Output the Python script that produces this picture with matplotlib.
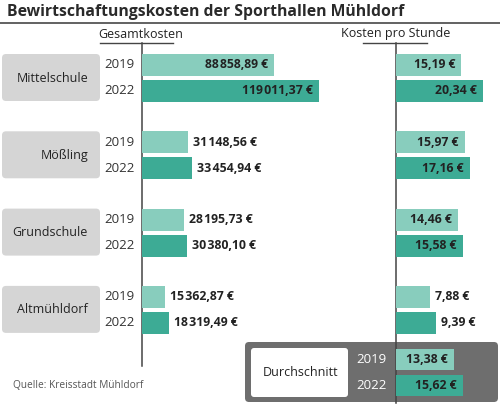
import matplotlib.pyplot as plt
from matplotlib.patches import FancyBboxPatch

plt.rcParams['font.family'] = ['Open Sans', 'DejaVu Sans']

# data
categories = ['Mittelschule', 'Mößling', 'Grundschule', 'Altmühldorf']
years = ['2019', '2022']
gesamt_2019 = [88858.89, 31148.56, 28195.73, 15362.87]
gesamt_2022 = [119011.37, 33454.94, 30380.10, 18319.49]
stunde_2019 = [15.19, 15.97, 14.46, 7.88]
stunde_2022 = [20.34, 17.16, 15.58, 9.39]
avg_label = 'Durchschnitt'
avg_stunde = [13.38, 15.62]

light = '#88cdbd'
dark = '#3dab95'
txt = '#222222'


def fmt(v):
    s = f'{v:,.2f}'
    return s.replace(',', '\u200a').replace('.', ',') + ' €'


W, H = 500, 405
fig = plt.figure(figsize=(W / 100, H / 100), dpi=100)
bg = fig.add_axes([0, 0, 1, 1])
bg.set_xlim(0, W)
bg.set_ylim(H, 0)
bg.axis('off')

# title
bg.text(7, 12, 'Bewirtschaftungskosten der Sporthallen Mühldorf', fontsize=11.3,
        fontweight='bold', color='#2a2a2a', va='center', ha='left')
bg.plot([0, W], [22.5, 22.5], color='#555555', lw=1.3)

# column headers
x_left, x_right = 142, 396
bg.text(141, 34, 'Gesamtkosten', fontsize=9, color=txt, ha='center', va='center')
bg.plot([100, 173], [43, 43], color='#444444', lw=1)
bg.text(x_right, 34, 'Kosten pro Stunde', fontsize=9, color=txt, ha='center', va='center')
bg.plot([363, 427], [43, 43], color='#444444', lw=1)

# average box
bg.add_patch(FancyBboxPatch((245, 342), 253, 60, boxstyle='round,pad=0,rounding_size=4',
                            fc='#6e6e6e', ec='none', zorder=1))
bg.add_patch(FancyBboxPatch((251, 348), 97, 49, boxstyle='round,pad=0,rounding_size=3',
                            fc='white', ec='none', zorder=2))
bg.text(301, 372, avg_label, fontsize=9, color=txt, ha='center', va='center', zorder=3)

# axis lines
bg.plot([x_left, x_left], [43, 366], color='#444444', lw=1.1, zorder=4)
bg.plot([x_right, x_right], [43, 403], color='#444444', lw=1.1, zorder=4)

bg.text(13, 385, 'Quelle: Kreisstadt Mühldorf', fontsize=7.3, color='#555555',
        ha='left', va='center')

# bar axes (pixel rows, value columns)
ax_l = fig.add_axes([x_left / W, 0, (W - x_left) / W, 1])
ax_l.set_xlim(0, (W - x_left) / 0.001486)
ax_r = fig.add_axes([x_right / W, 0, (W - x_right) / W, 1])
ax_r.set_xlim(0, (W - x_right) / 4.3)
for a in (ax_l, ax_r):
    a.set_ylim(H, 0)
    a.axis('off')
    a.patch.set_alpha(0)

bh = 22
centers = [78 + 77.3 * i for i in range(len(categories))]


def label(ax, v, y, inside):
    if inside:
        ax.annotate(fmt(v), (v, y), xytext=(-4.5, 0), textcoords='offset points',
                    ha='right', va='center', fontsize=8.8, fontweight='bold', color=txt)
    else:
        ax.annotate(fmt(v), (v, y), xytext=(3.5, 0), textcoords='offset points',
                    ha='left', va='center', fontsize=8.8, fontweight='bold', color=txt)


for i, cat in enumerate(categories):
    c = centers[i]
    y19, y22 = c - 13, c + 13
    bg.add_patch(FancyBboxPatch((2, y19 - bh / 2), 98, 47, boxstyle='round,pad=0,rounding_size=4',
                                fc='#d5d5d5', ec='none'))
    bg.text(88, c, cat, fontsize=9, color=txt, ha='right', va='center')
    bg.text(135, y19, years[0], fontsize=9.5, color='#333333', ha='right', va='center')
    bg.text(135, y22, years[1], fontsize=9.5, color='#333333', ha='right', va='center')

    ax_l.barh([y19, y22], [gesamt_2019[i], gesamt_2022[i]], height=bh, color=[light, dark])
    label(ax_l, gesamt_2019[i], y19, gesamt_2019[i] > 80000)
    label(ax_l, gesamt_2022[i], y22, gesamt_2022[i] > 80000)

    ax_r.barh([y19, y22], [stunde_2019[i], stunde_2022[i]], height=bh, color=[light, dark])
    label(ax_r, stunde_2019[i], y19, stunde_2019[i] > 12)
    label(ax_r, stunde_2022[i], y22, stunde_2022[i] > 12)

# average bars
ya = [359.5, 385.5]
ax_r.barh(ya, avg_stunde, height=21.5, color=[light, dark], zorder=3)
for v, y, yr in zip(avg_stunde, ya, years):
    label(ax_r, v, y, True)
    bg.text(387, y, yr, fontsize=9.5, color='white', ha='right', va='center', zorder=3)

fig.savefig('out.png', dpi=100)
